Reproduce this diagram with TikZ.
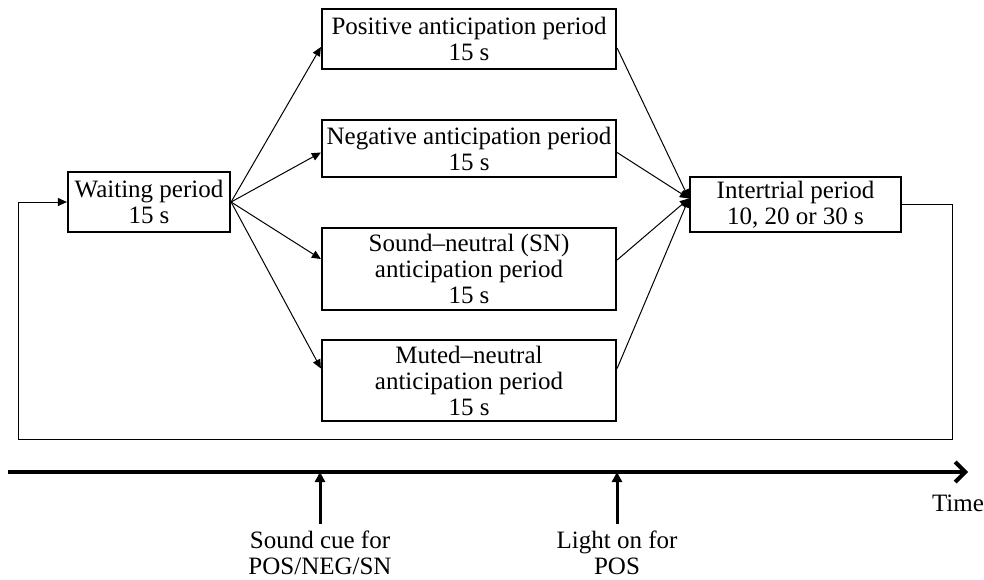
\documentclass[tikz,border=0pt]{standalone}
\usepackage{fontspec}
\setmainfont{Liberation Serif}
\usetikzlibrary{arrows.meta}

\tikzset{
	period/.style={draw, line width=1.1pt, align=center, inner sep=0pt, minimum width=147pt},
	conn/.style={line width=0.5pt, -{Triangle[length=4.5pt,width=4pt]}},
	cue/.style={line width=1.5pt, -{Triangle[length=5pt,width=5pt]}},
}

\begin{document}
\begin{tikzpicture}[x=0.5pt,y=0.5pt,font=\fontsize{12.5}{13}\selectfont]
			\useasboundingbox (0,0) rectangle (984,-579);
			% boxes
			\node[period, minimum width=81pt, minimum height=30pt](wait) at (149,-202) {Waiting period\\15 s};
			\node[period, minimum height=30pt](pos) at (469,-39) {Positive anticipation period\\15 s};
			\node[period, minimum height=28.5pt](neg) at (469,-148.5) {Negative anticipation period\\15 s};
			\node[period, minimum height=41pt](sn) at (469,-269) {Sound--neutral (SN)\\anticipation period\\15 s};
			\node[period, minimum height=40.5pt](mn) at (469,-380.5) {Muted--neutral\\anticipation period\\15 s};
			\node[period, minimum width=105.5pt, minimum height=27.5pt](inter) at (795.5,-204.5) {Intertrial period\\10, 20 or 30 s};
			% fan out
			\draw[conn](wait.east) -- ([yshift=-4pt]pos.west);
			\draw[conn](wait.east) -- ([yshift=-2pt]neg.west);
			\draw[conn](wait.east) -- ([yshift=5pt]sn.west);
			\draw[conn](wait.east) -- ([yshift=6pt]mn.west);
			% fan in
			\draw[conn]([yshift=-4.5pt]pos.east) -- ([yshift=3pt]inter.west);
			\draw[conn]([yshift=-2pt]neg.east) -- ([yshift=3pt]inter.west);
			\draw[conn]([yshift=4.5pt]sn.east) -- ([yshift=3pt]inter.west);
			\draw[conn]([yshift=6pt]mn.east) -- ([yshift=3pt]inter.west);
			% loop back
			\coordinate (loopr) at (952,-439);
			\coordinate (loopl) at (18,-439);
			\draw[conn](inter.east) -| (loopr) -- (loopl) |- (wait.west);
			% time axis
			\coordinate (t0) at (8,-472);
			\coordinate (t1) at (968,-472);
			\draw[line width=2pt, -{Straight Barb[length=5pt,width=10pt]}](t0) -- (t1);
			\node(time) at (958,-503) {Time};
			\node(snd) at (320,-553) [align=center] {Sound cue for\\POS/NEG/SN};
			\node(light) at (617,-553) [align=center] {Light on for\\POS};
			\draw[cue](snd.north) -- (snd.north |- t0);
			\draw[cue](light.north) -- (light.north |- t0);
		\end{tikzpicture}
\end{document}
